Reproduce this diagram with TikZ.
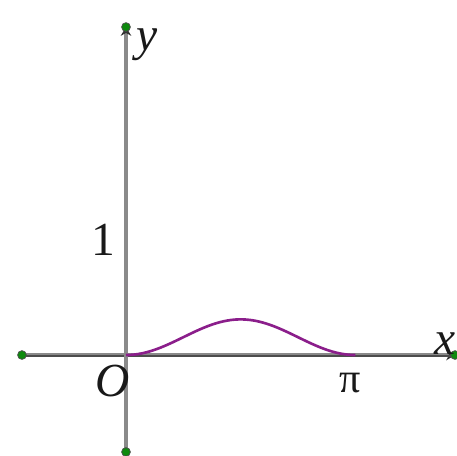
\documentclass[tikz,border=0pt]{standalone}
\usepackage{fontspec}
\setmainfont{Liberation Serif}
\usetikzlibrary{arrows.meta}
\definecolor{axisgray}{HTML}{8A8A8A}
\definecolor{curvepurple}{HTML}{8B1E8B}
\definecolor{enddot}{HTML}{0E8A0E}

\begin{document}
\begin{tikzpicture}[x=1.46cm, y=2.3cm,
      axis/.style={axisgray, line width=2.6pt},
      tip/.style={-{Stealth[length=5pt, width=6pt, black!80]}},
      dot/.style={circle, fill=enddot, draw=black!70, inner sep=0pt, minimum size=5pt},
      lbl/.style={font=\fontsize{27}{30}\selectfont, text=black!90, inner sep=0pt},
      graph/.style={curvepurple, line width=1.5pt}]
    \useasboundingbox (-1.726,-0.878) rectangle (4.534,3.087);
    \coordinate (xl) at (-1.425,0);
    \coordinate (xr) at (4.507,0);
    \coordinate (yb) at (0,-0.843);
    \coordinate (yt) at (0,2.852);
    \coordinate (o) at (0,0);
    % axes
    \draw[axis, tip] (xl) -- (xr);
    \draw[black!70, line width=1.3pt] ([yshift=-0.65pt]xl) -- ([yshift=-0.65pt]xr);
    \draw[axis, tip] (yb) -- (yt);
    \foreach \e in {xl,xr,yb,yt} \node[dot] at (\e) {};
    % curve
    \draw[graph] plot[domain=0:pi, samples=60, smooth] (\x, {0.31*sin(\x r)^2});
    % labels
    \node[lbl] (ylab) at (0.29,2.70) {\itshape y};
    \node[lbl] (xlab) at (4.37,0.10) {\itshape x};
    \node[lbl] (one) at (-0.315,1.0) {1};
    \node[lbl] (olab) at (-0.18,-0.226) {\itshape O};
    \node[lbl, font=\fontsize{24}{28}\selectfont] (pilab) at (3.07,-0.24) {π};
\end{tikzpicture}
\end{document}
